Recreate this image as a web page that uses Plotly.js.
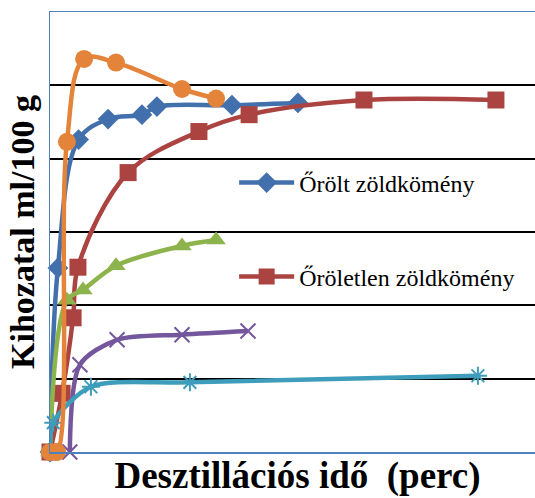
<!DOCTYPE html>
<html>
<head>
<meta charset="utf-8">
<script src="https://cdn.plot.ly/plotly-3.0.1.min.js"></script>
<style>
html,body{margin:0;padding:0;overflow:hidden;background:#fff;}
#chart{width:560px;height:498px;}
</style>
</head>
<body>
<div id="chart"></div>
<script>
// Distillation time (min) and yield (ml/100 g)
const groundTime   = [0, 3.6, 13, 26.4, 41.8, 48.6, 82.7, 112.7];
const groundYield  = [0, 2.51, 4.26, 4.54, 4.60, 4.71, 4.73, 4.76];

const wholeTime    = [0, 5.5, 10.5, 12.7, 35.5, 67.7, 90.5, 142.7, 202.7];
const wholeYield   = [0, 0.80, 1.83, 2.52, 3.81, 4.37, 4.60, 4.80, 4.80];

const greenTime    = [0, 7.7, 15, 30, 60, 75.5];
const greenYield   = [0, 2.07, 2.21, 2.54, 2.81, 2.89];

const purpleTime   = [9, 13.6, 30.5, 60, 90];
const purpleYield  = [0, 1.19, 1.53, 1.60, 1.65];

const tealTime     = [0, 1.5, 18.6, 63.6, 194.5];
const tealYield    = [0, 0.40, 0.89, 0.95, 1.04];

const orangeTime   = [0, 3.2, 7.7, 15.5, 30, 60, 75.5];
const orangeYield  = [0, 0, 4.23, 5.36, 5.31, 4.95, 4.82];

const seriesNames  = ["Őrölt zöldkömény", "Őröletlen zöldkömény"];
const xTitle = "Desztillációs idő  (perc)";
const yTitle = "Kihozatal ml/100 g";

const C = {blue:"#4270ad", red:"#ab4340", green:"#8db44c", purple:"#74569c", teal:"#3d9dba", orange:"#e3843a"};
const LW = 4.5;

const traces = [
  {x: groundTime, y: groundYield, name: seriesNames[0], legend: "legend",
   mode: "lines+markers", cliponaxis: false,
   line: {color: C.blue, width: LW, shape: "spline", smoothing: 1},
   marker: {symbol: "diamond", size: 16, color: C.blue}},
  {x: wholeTime, y: wholeYield, name: seriesNames[1], legend: "legend2",
   mode: "lines+markers", cliponaxis: false,
   line: {color: C.red, width: LW, shape: "spline", smoothing: 1},
   marker: {symbol: "square", size: 17, color: C.red}},
  {x: greenTime, y: greenYield, showlegend: false,
   mode: "lines+markers", cliponaxis: false,
   line: {color: C.green, width: LW, shape: "spline", smoothing: 1},
   marker: {symbol: "triangle-up", size: 17, color: C.green}},
  {x: purpleTime, y: purpleYield, showlegend: false,
   mode: "lines+markers", cliponaxis: false,
   line: {color: C.purple, width: LW, shape: "spline", smoothing: 0.8},
   marker: {symbol: "x-thin-open", size: 15, color: C.purple, line: {color: C.purple, width: 2}}},
  {x: tealTime, y: tealYield, showlegend: false,
   mode: "lines+markers", cliponaxis: false,
   line: {color: C.teal, width: LW, shape: "spline", smoothing: 0.8},
   marker: {symbol: "asterisk-open", size: 15, color: C.teal, line: {color: C.teal, width: 2}}},
  {x: orangeTime, y: orangeYield, showlegend: false,
   mode: "lines+markers", cliponaxis: false,
   line: {color: C.orange, width: LW, shape: "spline", smoothing: 1},
   marker: {symbol: "circle", size: 18, color: C.orange}}
];

const serif = "Liberation Serif";
function legendOpts(yPix) {
  return {
    x: 0.372, y: 1 - (yPix - 12) / 440,
    bgcolor: "rgba(0,0,0,0)", borderwidth: 0,
    font: {family: serif, size: 24, color: "#000"},
    xanchor: "left", yanchor: "middle", itemwidth: 55
  };
}

const layout = {
  width: 560, height: 498,
  margin: {l: 50, r: 15, t: 12, b: 46, pad: 0},
  font: {family: serif, color: "#000"},
  paper_bgcolor: "#fff", plot_bgcolor: "#fff",
  showlegend: true,
  xaxis: {
    range: [0, 225], showgrid: false, zeroline: false,
    showline: true, linecolor: "#4f81bd", linewidth: 1.5, mirror: true,
    showticklabels: false, ticks: "",
    title: {text: xTitle, font: {family: serif, size: 37, color: "#000", weight: "bold"}, standoff: 9}
  },
  yaxis: {
    range: [0, 6], dtick: 1, showgrid: true, gridcolor: "#000", gridwidth: 2,
    zeroline: false, showline: true, linecolor: "#4f81bd", linewidth: 1.5, mirror: true,
    showticklabels: false, ticks: "",
    title: {text: yTitle, font: {family: serif, size: 34, color: "#000", weight: "bold"}, standoff: 3}
  },
  legend: legendOpts(183),
  legend2: legendOpts(277)
};

Plotly.newPlot("chart", traces, layout, {displayModeBar: false, staticPlot: true});
</script>
</body>
</html>
